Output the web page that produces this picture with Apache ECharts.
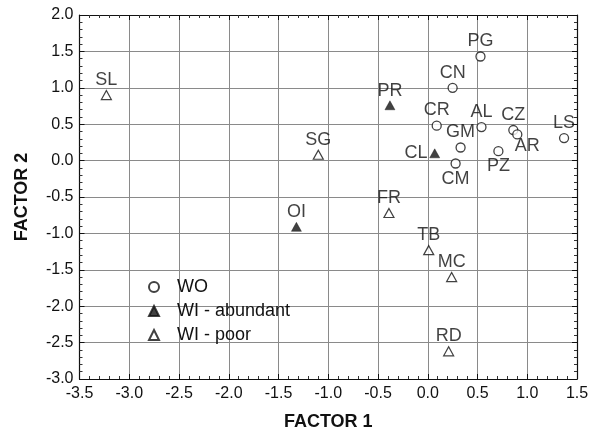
<!DOCTYPE html>
<html>
<head>
<meta charset="utf-8">
<script src="https://cdn.jsdelivr.net/npm/echarts@6/dist/echarts.min.js"></script>
<style>
html,body{margin:0;padding:0;background:#fff;}
#chart{width:599px;height:436px;}
</style>
</head>
<body>
<div id="chart"></div>
<script>
// ---- data ----
const woNames = ['PG','CN','CR','AL','CZ','AR','LS','GM','PZ','CM'];
const woF1 =    [0.53, 0.25, 0.09, 0.54, 0.86, 0.90, 1.37, 0.33, 0.71, 0.28];
const woF2 =    [1.43, 1.00, 0.48, 0.46, 0.42, 0.36, 0.31, 0.18, 0.13, -0.04];

const abNames = ['PR','CL','OI'];
const abF1 =    [-0.38, 0.07, -1.32];
const abF2 =    [0.76, 0.10, -0.91];

const poNames = ['SL','SG','FR','TB','MC','RD'];
const poF1 =    [-3.23, -1.10, -0.39, 0.01, 0.24, 0.21];
const poF2 =    [0.90, 0.08, -0.72, -1.23, -1.60, -2.62];

const seriesNames = ['WO','WI - abundant','WI - poor'];
const xTitle = 'FACTOR 1';
const yTitle = 'FACTOR 2';

// ---- label placement (style, not data) ----
const labelPlace = {
  CL: {position:'left', distance:2},
  PZ: {position:'bottom', distance:1},
  CM: {position:'bottom', distance:1},
  AR: {position:'bottom', distance:0, offset:[10,-3]}
};

function build(names, xs, ys){
  return names.map((n,i)=>{
    const p = {name:n, value:[xs[i], ys[i]]};
    if (labelPlace[n]) p.label = Object.assign({}, labelPlace[n]);
    return p;
  });
}

const textColor = '#111';
const FONT = 'Arial, Liberation Sans, sans-serif';
const labelStyle = {show:true, position:'top', distance:1, formatter:'{b}',
  fontFamily:FONT, fontSize:18, color:textColor};

const axisCommon = {
  type:'value',
  interval:0.5,
  axisLine:{show:true, onZero:false, lineStyle:{color:'#111', width:1.2}},
  axisTick:{show:true, inside:true, length:5, lineStyle:{color:'#111'}},
  minorTick:{show:true, splitNumber:5, length:3, lineStyle:{color:'#333'}},
  splitLine:{show:true, lineStyle:{color:'#8a8a8a', width:1}},
  axisLabel:{color:textColor, fontFamily:FONT, fontSize:16,
    formatter:(v)=>v.toFixed(1)}
};

const chart = echarts.init(document.getElementById('chart'), null, {renderer:'canvas'});
chart.setOption({
  animation:false,
  backgroundColor:'#fff',
  grid:{left:79.5, right:22, top:15, bottom:55},
  legend:{
    orient:'vertical', left:143, top:273,
    itemWidth:10, itemHeight:10, itemGap:6,
    textStyle:{fontFamily:FONT, fontSize:18, color:textColor, padding:[0,0,0,13]},
    data:seriesNames
  },
  xAxis:[
    Object.assign({}, axisCommon, {min:-3.5, max:1.5, position:'bottom',
      name:xTitle, nameLocation:'middle', nameGap:34,
      nameTextStyle:{fontFamily:FONT, fontSize:18, fontWeight:'bold', color:textColor},
      axisLabel:Object.assign({}, axisCommon.axisLabel, {margin:7})}),
    Object.assign({}, axisCommon, {min:-3.5, max:1.5, position:'top',
      splitLine:{show:false}, axisLabel:{show:false}})
  ],
  yAxis:[
    Object.assign({}, axisCommon, {min:-3.0, max:2.0, position:'left',
      name:yTitle, nameLocation:'middle', nameGap:48,
      nameTextStyle:{fontFamily:FONT, fontSize:18, fontWeight:'bold', color:textColor},
      axisLabel:Object.assign({}, axisCommon.axisLabel, {margin:6})}),
    Object.assign({}, axisCommon, {min:-3.0, max:2.0, position:'right',
      splitLine:{show:false}, axisLabel:{show:false}})
  ],
  series:[
    {name:seriesNames[0], type:'scatter', symbol:'circle', symbolSize:9,
     itemStyle:{color:'#fff', borderColor:'#111', borderWidth:1.3},
     label:labelStyle, data:build(woNames, woF1, woF2)},
    {name:seriesNames[1], type:'scatter', symbol:'triangle', symbolSize:[10,9],
     itemStyle:{color:'#111', borderColor:'#111', borderWidth:0.5},
     label:labelStyle, data:build(abNames, abF1, abF2)},
    {name:seriesNames[2], type:'scatter', symbol:'triangle', symbolSize:[10,9],
     itemStyle:{color:'#fff', borderColor:'#111', borderWidth:1.2},
     label:labelStyle, data:build(poNames, poF1, poF2)}
  ]
});
</script>
</body>
</html>
